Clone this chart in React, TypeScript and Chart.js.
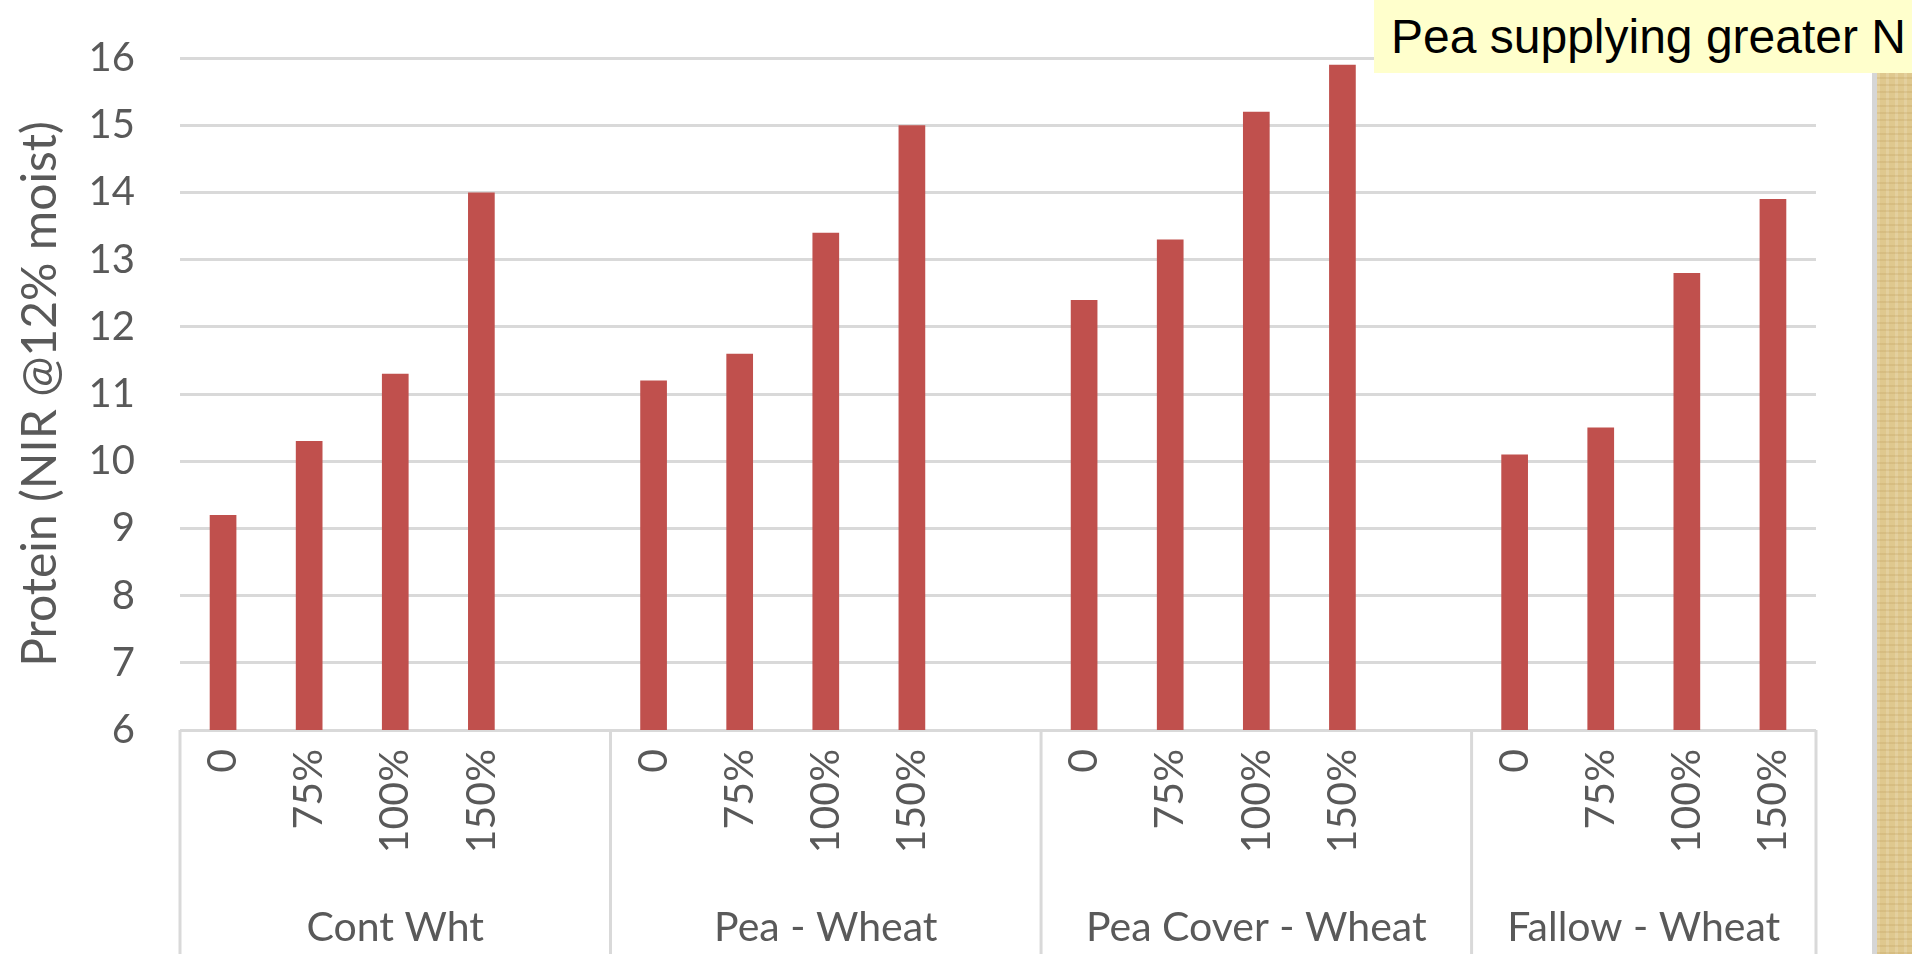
import React, { useEffect, useRef } from "react";
import { Chart, registerables } from "chart.js";

Chart.register(...registerables);

// ---- data ----
const groupNames = ["Cont Wht", "Pea - Wheat", "Pea Cover - Wheat", "Fallow - Wheat"];
const rateLabels = ["0", "75%", "100%", "150%"];
const contWht = [9.2, 10.3, 11.3, 14.0];
const peaWheat = [11.2, 11.6, 13.4, 15.0];
const peaCoverWheat = [12.4, 13.3, 15.2, 15.9];
const fallowWheat = [10.1, 10.5, 12.8, 13.9];
const yTickValues = [6, 7, 8, 9, 10, 11, 12, 13, 14, 15, 16];
const yTitle = "Protein (NIR @12% moist)";
const noteText = "Pea supplying greater N";

const seriesByGroup = [contWht, peaWheat, peaCoverWheat, fallowWheat];

// build the flat category table (a blank slot separates groups)
const labels: string[] = [];
const values: (number | null)[] = [];
const groupSpans: { name: string; start: number; end: number }[] = [];
seriesByGroup.forEach((vals, g) => {
  const start = labels.length;
  rateLabels.forEach((r, i) => {
    labels.push(r);
    values.push(vals[i]);
  });
  if (g < seriesByGroup.length - 1) {
    labels.push("");
    values.push(null);
  }
  groupSpans.push({ name: groupNames[g], start, end: labels.length });
});

const TEXT = "#595959";
const GRID = "#D9D9D9";
const BAR = "#C0504D";
const FONT = "Lato, 'Open Sans', sans-serif";

const groupAxisPlugin = {
  id: "groupAxis",
  afterDraw(chart: any) {
    const ctx = chart.ctx;
    const xs = chart.scales.x;
    const area = chart.chartArea;
    const w = xs.getPixelForValue(1) - xs.getPixelForValue(0);
    const yTop = area.bottom;
    const yBot = chart.height;
    ctx.save();
    ctx.strokeStyle = GRID;
    ctx.lineWidth = 3;
    const drawV = (x: number) => {
      ctx.beginPath();
      ctx.moveTo(x, yTop);
      ctx.lineTo(x, yBot);
      ctx.stroke();
    };
    ctx.fillStyle = TEXT;
    ctx.font = `41px ${FONT}`;
    ctx.textAlign = "center";
    ctx.textBaseline = "middle";
    groupSpans.forEach((s, i) => {
      const left = xs.getPixelForValue(s.start) - w / 2;
      const right = xs.getPixelForValue(s.end - 1) + w / 2;
      drawV(left);
      if (i === groupSpans.length - 1) drawV(right);
      ctx.fillText(s.name, (left + right) / 2, area.bottom + 198);
    });
    ctx.restore();
  },
};

export default function App() {
  const ref = useRef<HTMLCanvasElement | null>(null);

  useEffect(() => {
    if (!ref.current) return;
    const chart = new Chart(ref.current, {
      type: "bar",
      data: {
        labels,
        datasets: [
          {
            data: values,
            backgroundColor: BAR,
            borderWidth: 0,
            barPercentage: 0.31,
            categoryPercentage: 1,
          },
        ],
      },
      options: {
        responsive: false,
        animation: false,
        devicePixelRatio: 1,
        layout: { padding: { top: 58, right: 96, bottom: 0, left: 0 } },
        plugins: {
          legend: { display: false },
          tooltip: { enabled: false },
          title: { display: false },
        },
        scales: {
          x: {
            type: "category",
            grid: { display: false, drawTicks: false },
            border: { display: false },
            ticks: {
              autoSkip: false,
              minRotation: 90,
              maxRotation: 90,
              padding: 19,
              color: TEXT,
              font: { family: FONT, size: 41 },
            },
            afterFit: (scale: any) => {
              scale.height = 224;
            },
          },
          y: {
            type: "linear",
            min: yTickValues[0],
            max: yTickValues[yTickValues.length - 1],
            afterBuildTicks: (scale: any) => {
              scale.ticks = yTickValues.map((v) => ({ value: v }));
            },
            grid: {
              color: GRID,
              lineWidth: 3,
              drawTicks: true,
              tickLength: 45,
              tickColor: "rgba(0,0,0,0)",
            },
            border: { display: false },
            ticks: {
              padding: 0,
              color: TEXT,
              font: { family: FONT, size: 40 },
            },
            title: {
              display: true,
              text: yTitle,
              color: TEXT,
              font: { family: FONT, size: 48 },
              padding: { top: 12, bottom: 0 },
            },
            afterFit: (scale: any) => {
              scale.width = 180;
            },
          },
        },
      },
      plugins: [groupAxisPlugin],
    } as any);
    return () => chart.destroy();
  }, []);

  return (
    <div
      style={{
        position: "absolute",
        left: 0,
        top: 0,
        width: 1912,
        height: 954,
        background: "#fff",
        overflow: "hidden",
      }}
    >
      <canvas
        ref={ref}
        width={1912}
        height={954}
        style={{ position: "absolute", left: 0, top: 0, width: 1912, height: 954 }}
      />
      <div
        style={{
          position: "absolute",
          left: 1374,
          top: 0,
          width: 538,
          height: 73,
          background: "#FFFFCC",
          fontFamily: "'Liberation Sans', Arial, sans-serif",
          fontSize: 48,
          lineHeight: "73px",
          color: "#000",
          paddingLeft: 17,
          boxSizing: "border-box",
          whiteSpace: "nowrap",
        }}
      >
        {noteText}
      </div>
      <div
        style={{
          position: "absolute",
          left: 1872,
          top: 73,
          width: 40,
          height: 881,
          boxSizing: "border-box",
          borderLeft: "5px solid #D6D6D6",
          background:
            "repeating-linear-gradient(0deg, rgba(170,130,60,0.16) 0px, rgba(170,130,60,0.16) 2px, rgba(0,0,0,0) 2px, rgba(0,0,0,0) 7px), repeating-linear-gradient(90deg, rgba(255,255,255,0.15) 0px, rgba(255,255,255,0.15) 3px, rgba(0,0,0,0) 3px, rgba(0,0,0,0) 9px), #DFC88E",
        }}
      />
    </div>
  );
}
